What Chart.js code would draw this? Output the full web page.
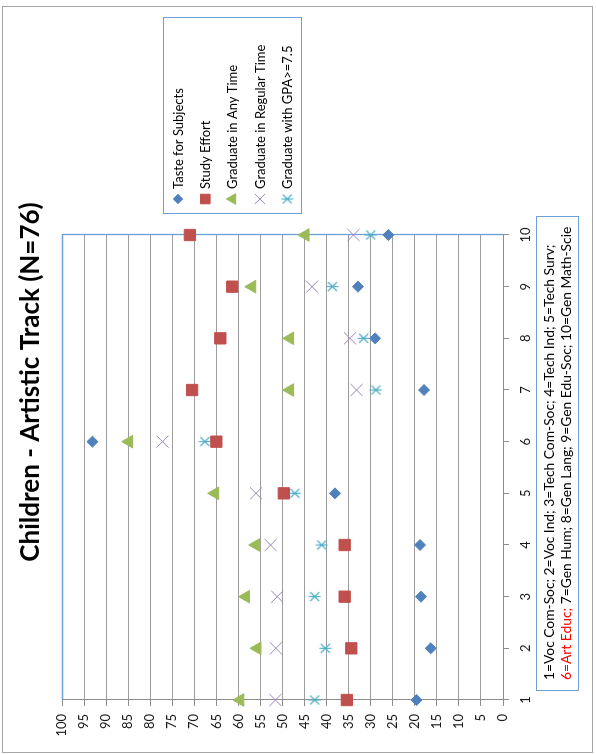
<!DOCTYPE html>
<html>
<head>
<meta charset="utf-8">
<title>Children - Artistic Track (N=76)</title>
<script src="https://cdn.jsdelivr.net/npm/chart.js@4.4.1/dist/chart.umd.min.js"></script>
<style>
  html, body { margin: 0; padding: 0; background: #fff; overflow: hidden; }
  #page { position: relative; width: 596px; height: 754px; overflow: hidden; background: #fff; }
  /* the chart is laid out landscape and turned a quarter turn counter-clockwise */
  #turn { position: absolute; left: 0; top: 0; width: 754px; height: 596px;
          transform-origin: 0 0; transform: translateY(754px) rotate(-90deg); }
  canvas { display: block; }
</style>
</head>
<body>
<div id="page"><div id="turn"><canvas id="chart" width="754" height="596"></canvas></div></div>
<script>
// Track codes (see the key under the chart)
const trackCodes = ['1', '2', '3', '4', '5', '6', '7', '8', '9', '10'];

// Percentages per track
const tasteForSubjects    = [19.6, 16.4, 18.6, 18.8, 38.1, 93.1, 17.9, 29.0, 32.9, 26.0];
const studyEffort         = [35.4, 34.4, 35.9, 35.9, 49.7, 65.0, 70.5, 64.1, 61.4, 71.0];
const graduateAnyTime     = [59.6, 55.7, 58.3, 56.0, 65.3, 84.8, 48.3, 48.3, 56.9, 44.8];
const graduateRegularTime = [51.6, 51.5, 51.2, 52.7, 56.0, 77.2, 33.2, 34.7, 43.3, 33.9];
const graduateHighGpa     = [42.7, 40.3, 42.7, 41.1, 47.2, 67.6, 28.8, 31.6, 38.7, 30.0];

// Value axis range and step
const valueMin = 0;
const valueMax = 100;
const valueStep = 5;

// Key text shown below the plot
const keyLine1 = '1=Voc Com-Soc; 2=Voc Ind; 3=Tech Com-Soc; 4=Tech Ind; 5=Tech Surv;';
const keyLine2Red = '6=Art Educ;';
const keyLine2Rest = ' 7=Gen Hum; 8=Gen Lang; 9=Gen Edu-Soc; 10=Gen Math-Scie';

const FONT = 'Lato, "Open Sans", sans-serif';
const AXIS_GREY = '#8c8c8c';
const FRAME_BLUE = '#6f9fd8';

// asterisk marker: an x with a vertical bar through it
function asteriskMarker(color) {
  const c = document.createElement('canvas');
  c.width = 13; c.height = 13;
  const g = c.getContext('2d');
  g.strokeStyle = color;
  g.lineWidth = 1.1;
  g.beginPath();
  g.moveTo(2, 2); g.lineTo(11, 11);
  g.moveTo(11, 2); g.lineTo(2, 11);
  g.moveTo(6.5, 0.5); g.lineTo(6.5, 12.5);
  g.stroke();
  return c;
}

const plotFrame = {
  id: 'plotFrame',
  beforeDraw(chart) {
    const { ctx, width, height } = chart;
    ctx.save();
    ctx.fillStyle = '#fff';
    ctx.fillRect(0, 0, width, height);
    ctx.strokeStyle = '#a6a6a6';
    ctx.lineWidth = 1;
    ctx.strokeRect(1.5, 2.5, 746, 590);
    ctx.restore();
  },
  beforeDatasetsDraw(chart) {
    const { ctx, chartArea: a } = chart;
    ctx.save();
    ctx.strokeStyle = FRAME_BLUE;
    ctx.lineWidth = 1.3;
    ctx.beginPath();
    ctx.moveTo(a.left, Math.round(a.top) + 0.5);
    ctx.lineTo(Math.round(a.right) + 0.5, Math.round(a.top) + 0.5);
    ctx.lineTo(Math.round(a.right) + 0.5, a.bottom);
    ctx.stroke();
    ctx.restore();
  }
};

const seriesKey = {
  id: 'seriesKey',
  afterDraw(chart) {
    const { ctx } = chart;
    ctx.save();
    ctx.strokeStyle = FRAME_BLUE;
    ctx.lineWidth = 1;
    ctx.strokeRect(540.5, 163.5, 196, 138);
    ctx.font = '13px ' + FONT;
    ctx.textBaseline = 'middle';
    ctx.textAlign = 'left';
    chart.data.datasets.forEach((ds, i) => {
      const y = 178 + i * 27.3;
      ctx.fillStyle = ds.backgroundColor;
      ctx.strokeStyle = ds.borderColor;
      ctx.lineWidth = ds.borderWidth;
      Chart.helpers.drawPoint(ctx, {
        pointStyle: ds.pointStyle,
        radius: ds.pointRadius * 0.85,
        rotation: 0,
        borderWidth: ds.borderWidth
      }, 555, y);
      ctx.fillStyle = '#000';
      ctx.fillText(ds.label, 565, y + 0.5);
    });
    ctx.restore();
  }
};

const trackKey = {
  id: 'trackKey',
  afterDraw(chart) {
    const { ctx } = chart;
    ctx.save();
    ctx.strokeStyle = FRAME_BLUE;
    ctx.lineWidth = 1;
    ctx.strokeRect(63.5, 536.5, 474, 42);
    ctx.font = '13.8px ' + FONT;
    ctx.textBaseline = 'middle';
    ctx.textAlign = 'left';
    ctx.fillStyle = '#000';
    ctx.fillText(keyLine1, 74, 550);
    ctx.fillStyle = '#ff0000';
    ctx.fillText(keyLine2Red, 74, 567);
    const w = ctx.measureText(keyLine2Red).width;
    ctx.fillStyle = '#000';
    ctx.fillText(keyLine2Rest, 74 + w, 567);
    ctx.restore();
  }
};

function build() {
  Chart.defaults.font.family = FONT;
  Chart.defaults.font.size = 13;
  Chart.defaults.color = '#1a1a1a';

  const common = { showLine: false, borderWidth: 1, clip: false, pointHoverRadius: 0 };

  new Chart(document.getElementById('chart'), {
    type: 'line',
    data: {
      labels: trackCodes,
      datasets: [
        Object.assign({}, common, {
          label: 'Taste for Subjects', data: tasteForSubjects,
          pointStyle: 'rectRot', pointRadius: 5.5,
          backgroundColor: '#4f81bd', borderColor: '#4f81bd'
        }),
        Object.assign({}, common, {
          label: 'Study Effort', data: studyEffort,
          pointStyle: 'rect', pointRadius: 8,
          backgroundColor: '#c0504d', borderColor: '#c0504d'
        }),
        Object.assign({}, common, {
          label: 'Graduate in Any Time', data: graduateAnyTime,
          pointStyle: 'triangle', pointRadius: 7.3,
          backgroundColor: '#9bbb59', borderColor: '#9bbb59'
        }),
        Object.assign({}, common, {
          label: 'Graduate in Regular Time', data: graduateRegularTime,
          pointStyle: 'crossRot', pointRadius: 8.5,
          backgroundColor: '#8064a2', borderColor: '#9a86bd'
        }),
        Object.assign({}, common, {
          label: 'Graduate with GPA>=7.5', data: graduateHighGpa,
          pointStyle: asteriskMarker('#4bacc6'), pointRadius: 6.5,
          backgroundColor: '#4bacc6', borderColor: '#4bacc6'
        })
      ]
    },
    options: {
      responsive: false,
      animation: false,
      devicePixelRatio: 1,
      events: [],
      layout: { autoPadding: false, padding: { left: 0, right: 10, top: 0, bottom: 63 } },
      plugins: {
        legend: { display: false },
        tooltip: { enabled: false },
        title: {
          display: true,
          text: 'Children - Artistic Track (N=76)',
          color: '#000',
          font: { size: 26, weight: 'bold', family: FONT, lineHeight: 1.2 },
          padding: { top: 15.4, bottom: 15.4 }
        }
      },
      scales: {
        x: {
          type: 'category',
          offset: false,
          grid: { display: true, drawOnChartArea: false, drawTicks: true, tickLength: 6, tickColor: AXIS_GREY },
          border: { display: true, color: AXIS_GREY, width: 1 },
          ticks: { padding: 9, maxRotation: 0, autoSkip: false, font: { size: 13 } },
          afterFit(scale) { scale.height = 30; }
        },
        y: {
          type: 'linear',
          position: 'left',
          min: valueMin,
          max: valueMax,
          ticks: { stepSize: valueStep, padding: 8, font: { size: 13 } },
          grid: { color: '#9d9d9d', lineWidth: 1, drawTicks: true, tickLength: 6, tickColor: AXIS_GREY },
          border: { display: true, color: AXIS_GREY, width: 1 },
          afterFit(scale) { scale.width = 54; }
        },
        side: {
          type: 'linear',
          position: 'right',
          min: valueMin,
          max: valueMax,
          grid: { display: false, drawTicks: false },
          border: { display: false },
          ticks: { display: false },
          afterFit(scale) { scale.width = 225; }
        }
      }
    },
    plugins: [plotFrame, seriesKey, trackKey]
  });
}

if (document.fonts && document.fonts.load) {
  Promise.all([
    document.fonts.load('13px Lato'),
    document.fonts.load('bold 26px Lato')
  ]).then(build, build);
} else {
  build();
}
</script>
</body>
</html>
